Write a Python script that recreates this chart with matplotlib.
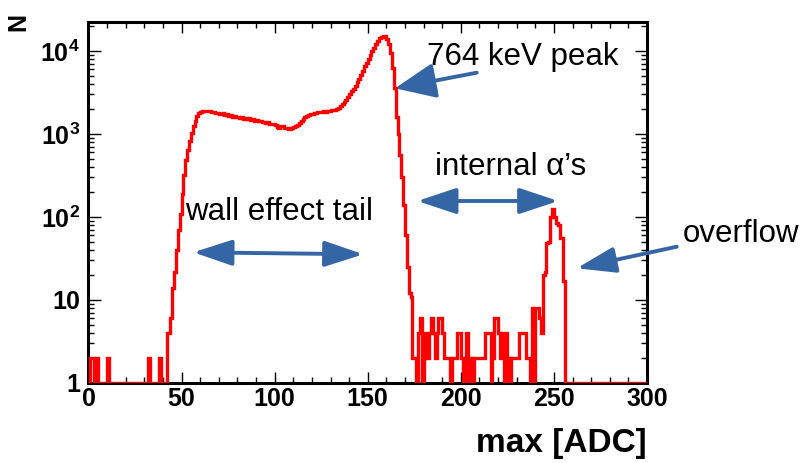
import numpy as np
import matplotlib.pyplot as plt
from matplotlib.patches import FancyArrowPatch
from matplotlib.ticker import MultipleLocator, LogLocator, FuncFormatter, NullFormatter

plt.rcParams['font.family'] = ['Liberation Sans', 'DejaVu Sans']
plt.rcParams['font.weight'] = 'bold'
plt.rcParams['mathtext.fontset'] = 'custom'
plt.rcParams['mathtext.bf'] = 'Liberation Sans:bold'
plt.rcParams['mathtext.rm'] = 'Liberation Sans:bold'

W, H = 804, 463

# one bin per ADC count, 0..300
edges = np.arange(0, 301)

# counts, bin by bin (0 = empty bin)
pre_edge = [0, 2, 2, 0, 2, 0, 0, 0, 0, 0, 2,
            0, 0, 0, 0, 0, 0, 0, 0, 0, 0, 0, 0, 0, 0, 0, 0, 0, 0, 0, 0, 0,
            2, 0, 0, 0, 0, 0, 2, 0, 0, 0]                      # bins 0-41
rise = [4, 4, 6, 14, 22, 40, 70, 110, 190, 320, 480, 640, 820, 1030,
        1250, 1450, 1650, 1780, 1850, 1880, 1900, 1870, 1910, 1880,
        1850, 1860, 1810]                                      # bins 42-68
plateau = [1790, 1760, 1740, 1770, 1700, 1720, 1660, 1690, 1600, 1630,
           1580, 1620, 1560, 1590, 1530, 1560, 1500, 1540, 1480, 1510,
           1450, 1470, 1420, 1440, 1390, 1400, 1350, 1380, 1320, 1300,
           1330, 1270, 1220, 1180, 1260, 1230, 1190, 1170, 1150, 1160,
           1170, 1200, 1240, 1290, 1350, 1430, 1500, 1580, 1640, 1700,
           1730, 1760, 1790, 1780, 1820, 1850, 1830, 1870, 1860, 1900,
           1880, 1920, 1950, 1940, 1980]                       # bins 69-133
peak = [2050, 2150, 2300, 2450, 2600, 2800, 3000, 3250, 3500, 3800,
        4200, 4600, 5200, 5800, 6500, 7200, 8000, 8900, 9900, 11000,
        12200, 13200, 14200, 14900, 15300, 15000, 14000, 12200, 9400,
        6200, 3600, 1600, 1000, 560, 300, 140, 60, 25, 12, 11, 2]  # bins 134-174
noise = [2, 0, 4, 6, 0, 2, 4, 2, 4, 6, 4, 2, 4, 6, 6, 4, 2, 2, 2, 0,
         2, 2, 2, 4, 4, 2, 0, 2, 4, 0, 2, 0, 2, 2, 2, 2, 2, 2, 4, 4,
         4, 0, 2, 6, 6, 4, 2, 4, 0, 4, 2, 0, 2, 2, 2, 2, 4, 4, 4, 4,
         2, 2, 0, 8, 0, 8, 8, 6]                               # bins 175-242
alpha_peak = [4, 20, 22, 48, 50, 100, 125, 100, 85, 80, 56, 56, 17]  # bins 243-255
above = [0] * 44                                               # bins 256-299

counts = np.array(pre_edge + rise + plateau + peak + noise + alpha_peak + above)

blue = '#3465a4'


def fig_xy(px, py):
    return (px / W, 1 - py / H)


def label(px, py, s):
    fig.text(*fig_xy(px, py), s, ha='left', va='baseline',
             fontsize=22.5, fontweight='normal', color='black')


def arrow(tail, tip, style, hl, hw):
    a = FancyArrowPatch(fig_xy(*tail), fig_xy(*tip), transform=fig.transFigure,
                        arrowstyle=f'{style},head_length={hl},head_width={hw}',
                        mutation_scale=1, color=blue, lw=2.8,
                        shrinkA=0, shrinkB=0)
    fig.add_artist(a)


def ylab(v, pos):
    if v < 5:
        return '1'
    if v < 50:
        return '10'
    return r'$\mathbf{10^{%d}}$' % round(np.log10(v))


fig = plt.figure(figsize=(W / 100, H / 100), dpi=100)
ax = fig.add_axes([88.5 / W, 80 / H, (647 - 88.5) / W, (383 - 21.7) / H])

ax.stairs(np.maximum(counts, 1), edges, baseline=None, color='#ff0000',
          lw=2.4, zorder=3)

ax.set_yscale('log')
ax.set_xlim(0, 300)
ax.set_ylim(1, 22500)

ax.xaxis.set_major_locator(MultipleLocator(50))
ax.xaxis.set_minor_locator(MultipleLocator(10))
ax.yaxis.set_major_locator(LogLocator(base=10))
ax.yaxis.set_minor_locator(LogLocator(base=10, subs=np.arange(2, 10)))
ax.yaxis.set_major_formatter(FuncFormatter(ylab))
ax.yaxis.set_minor_formatter(NullFormatter())

ax.tick_params(which='both', direction='in', top=True, right=True,
               labelsize=18, width=1.0, color='black')
ax.tick_params(axis='x', which='major', length=8, pad=3)
ax.tick_params(axis='x', which='minor', length=4)
ax.tick_params(axis='y', which='major', length=9, pad=6)
ax.tick_params(axis='y', which='minor', length=4.5)
for s in ax.spines.values():
    s.set_linewidth(2.2)

fig.text(*fig_xy(647, 452), 'max [ADC]', ha='right', va='baseline',
         fontsize=24, fontweight='bold')
fig.text(*fig_xy(18, 22), 'N', ha='center', va='center', rotation=90,
         fontsize=18, fontweight='bold')

label(426.7, 65, '764 keV peak')
label(435, 175, 'internal α’s')
label(185, 220, 'wall effect tail')
label(683, 241.7, 'overflow')

arrow((476.7, 72.7), (395, 88.3), '-|>', 25, 10.8)
arrow((417.3, 201), (558.3, 201), '<|-|>', 23.8, 7.9)
arrow((193.3, 252.3), (363.3, 254.3), '<|-|>', 23.8, 7.9)
arrow((676.7, 246.7), (576.7, 268.3), '-|>', 23.8, 7.9)

fig.savefig('out.png', dpi=100)
